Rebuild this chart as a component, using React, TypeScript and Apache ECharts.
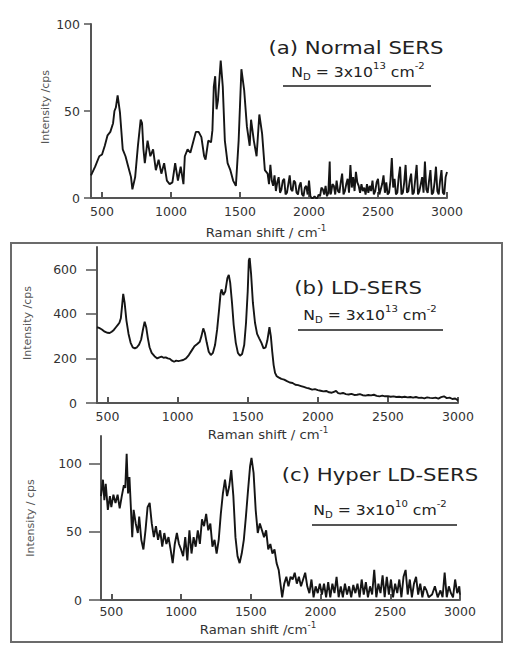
import React, { useEffect, useRef } from "react";
import * as echarts from "echarts";

const xTickValues = [500, 1000, 1500, 2000, 2500, 3000];
const yTicksA = [0, 50, 100];
const yTicksB = [0, 200, 400, 600];
const yTicksC = [0, 50, 100];

const panelTitles = ["(a) Normal SERS", "(b) LD-SERS", "(c) Hyper LD-SERS"];
const densityExponents = ["13", "13", "10"];
const xNames = ["Raman shift / cm", "Raman shift / cm", "Raman shift /cm"];
const yNames = ["Intensity /cps", "Intensity /cps", "Intensity / cps"];

const spectrumA: [number, number][] = [
  [420, 13], [450, 18], [480, 24], [500, 25], [520, 30], [540, 36], [560, 38], [580, 43], [590, 50], [600, 52],
  [613, 59], [630, 49], [650, 28], [670, 24], [690, 18], [710, 12], [720, 5], [740, 12], [760, 30], [780, 45],
  [790, 43], [800, 28], [810, 20], [830, 33], [850, 24], [870, 28], [890, 16], [910, 22], [930, 14], [950, 20],
  [970, 10], [990, 8], [1010, 9], [1030, 20], [1050, 10], [1070, 18], [1090, 8], [1100, 24], [1120, 28], [1140, 26],
  [1160, 32], [1180, 38], [1200, 38], [1220, 35], [1240, 24], [1250, 22], [1270, 33], [1290, 32], [1300, 39], [1310, 64],
  [1320, 70], [1330, 51], [1340, 56], [1360, 79], [1375, 64], [1390, 33], [1410, 20], [1430, 16], [1450, 10], [1470, 7],
  [1490, 33], [1510, 74], [1530, 62], [1550, 41], [1570, 30], [1580, 45], [1600, 33], [1620, 24], [1640, 48], [1660, 37],
  [1680, 16], [1700, 14], [1710, 8], [1720, 19], [1730, 10], [1740, 7], [1750, 13], [1760, 4], [1770, 9], [1780, 12],
  [1790, 3], [1800, 5], [1810, 10], [1820, 11], [1830, 2], [1840, 3], [1850, 8], [1860, 13], [1870, 5], [1880, 4],
  [1890, 10], [1900, 9], [1910, 3], [1920, 2], [1930, 7], [1940, 9], [1950, 2], [1960, 1], [1970, 6], [1980, 7],
  [1990, 2], [2000, 10], [2010, 1], [2020, 0], [2030, 0], [2040, 1], [2050, 0], [2060, 0], [2070, 2], [2080, 1],
  [2090, 6], [2100, 5], [2110, 2], [2120, 7], [2130, 1], [2140, 3], [2150, 21], [2155, 2], [2160, 3], [2170, 8],
  [2180, 7], [2190, 2], [2200, 10], [2210, 4], [2220, 3], [2230, 9], [2240, 14], [2250, 2], [2260, 4], [2270, 8],
  [2280, 11], [2290, 3], [2300, 19], [2310, 6], [2320, 12], [2330, 4], [2340, 15], [2350, 9], [2360, 7], [2370, 3],
  [2380, 8], [2390, 4], [2400, 6], [2410, 2], [2420, 8], [2430, 3], [2440, 7], [2450, 4], [2460, 10], [2470, 2],
  [2480, 4], [2490, 9], [2500, 11], [2510, 2], [2520, 5], [2530, 8], [2540, 13], [2550, 3], [2560, 9], [2570, 2],
  [2580, 3], [2590, 10], [2600, 23], [2610, 6], [2620, 11], [2630, 2], [2640, 3], [2650, 12], [2660, 18], [2670, 2],
  [2680, 3], [2690, 9], [2700, 19], [2710, 3], [2720, 4], [2730, 10], [2740, 14], [2750, 2], [2760, 3], [2770, 11],
  [2780, 19], [2790, 2], [2800, 4], [2810, 8], [2820, 12], [2830, 3], [2840, 21], [2850, 5], [2860, 3], [2870, 10],
  [2880, 16], [2890, 2], [2900, 3], [2910, 9], [2920, 18], [2930, 4], [2940, 2], [2950, 10], [2960, 16], [2970, 3],
  [2980, 2], [2990, 12], [3000, 15],
];

const spectrumB: [number, number][] = [
  [425, 340], [440, 337], [460, 330], [480, 320], [500, 315], [515, 314], [530, 320], [545, 328], [560, 340], [575, 352],
  [585, 360], [595, 380], [603, 430], [612, 490], [622, 450], [635, 370], [650, 310], [665, 270], [680, 250], [695, 245],
  [710, 250], [725, 262], [740, 285], [753, 330], [765, 365], [776, 340], [788, 290], [800, 250], [815, 225], [835, 210],
  [855, 200], [870, 205], [885, 208], [900, 203], [915, 205], [930, 200], [945, 198], [960, 190], [975, 185], [990, 190],
  [1005, 188], [1020, 190], [1040, 193], [1060, 200], [1080, 215], [1100, 235], [1120, 255], [1140, 265], [1158, 275],
  [1170, 300], [1183, 335], [1194, 315], [1208, 270], [1222, 230], [1237, 215], [1252, 225], [1267, 260], [1282, 330],
  [1296, 420], [1306, 490], [1313, 510], [1326, 485], [1340, 500], [1355, 560], [1365, 575], [1375, 540], [1388, 450],
  [1400, 350], [1415, 270], [1430, 225], [1445, 212], [1460, 220], [1475, 260], [1488, 360], [1500, 500], [1508, 640],
  [1514, 650], [1524, 580], [1537, 450], [1552, 360], [1567, 310], [1582, 290], [1598, 270], [1613, 245], [1628, 250],
  [1640, 280], [1655, 340], [1665, 300], [1675, 230], [1685, 170], [1695, 135], [1707, 120], [1720, 115], [1740, 108],
  [1760, 105], [1780, 98], [1800, 92], [1820, 90], [1840, 82], [1860, 80], [1880, 76], [1900, 72], [1920, 68], [1940, 65],
  [1960, 60], [1980, 62], [2000, 58], [2020, 55], [2040, 52], [2060, 54], [2080, 48], [2100, 46], [2115, 50], [2130, 54],
  [2145, 44], [2160, 42], [2180, 45], [2200, 40], [2220, 38], [2240, 41], [2260, 36], [2280, 37], [2300, 40], [2320, 35],
  [2340, 33], [2360, 36], [2380, 34], [2400, 37], [2420, 32], [2440, 30], [2460, 33], [2480, 30], [2500, 31], [2520, 28],
  [2540, 30], [2560, 27], [2580, 28], [2600, 26], [2620, 28], [2640, 25], [2660, 27], [2680, 24], [2700, 27], [2720, 23],
  [2740, 24], [2760, 21], [2780, 25], [2800, 23], [2820, 22], [2840, 24], [2860, 20], [2880, 26], [2900, 30], [2920, 22],
  [2940, 24], [2960, 18], [2980, 20], [3000, 12],
];

const spectrumC: [number, number][] = [
  [426, 76], [440, 88], [450, 73], [460, 85], [475, 66], [490, 76], [500, 68], [515, 77], [530, 71], [545, 77],
  [560, 67], [575, 76], [590, 84], [600, 82], [610, 107], [620, 78], [630, 90], [640, 68], [650, 46], [660, 66],
  [675, 56], [690, 49], [700, 61], [715, 44], [730, 37], [745, 51], [760, 68], [775, 71], [790, 56], [805, 46],
  [820, 54], [835, 44], [850, 51], [865, 39], [880, 49], [895, 41], [910, 46], [925, 37], [940, 27], [955, 41],
  [970, 49], [985, 41], [1000, 37], [1015, 32], [1030, 46], [1045, 29], [1060, 51], [1075, 34], [1090, 46], [1105, 39],
  [1120, 51], [1135, 41], [1150, 59], [1165, 54], [1180, 63], [1195, 51], [1210, 56], [1225, 39], [1240, 44], [1255, 34],
  [1270, 44], [1285, 63], [1300, 78], [1315, 88], [1330, 76], [1345, 83], [1360, 95], [1375, 76], [1390, 46], [1405, 32],
  [1420, 27], [1435, 34], [1450, 44], [1465, 61], [1480, 80], [1495, 98], [1505, 104], [1520, 93], [1535, 66], [1550, 49],
  [1565, 56], [1580, 51], [1595, 46], [1610, 51], [1625, 37], [1640, 41], [1655, 34], [1670, 37], [1685, 27], [1700, 22],
  [1715, 10], [1725, 2], [1740, 12], [1755, 17], [1770, 10], [1785, 17], [1800, 15], [1815, 20], [1830, 12], [1845, 17],
  [1860, 10], [1875, 15], [1890, 20], [1905, 10], [1920, 5], [1935, 15], [1950, 2], [1965, 10], [1980, 5], [1995, 12],
  [2010, 4], [2025, 12], [2040, 2], [2055, 13], [2070, 2], [2085, 12], [2100, 5], [2115, 17], [2130, 2], [2145, 10],
  [2160, 2], [2175, 12], [2190, 4], [2205, 10], [2220, 2], [2235, 11], [2250, 5], [2265, 12], [2280, 2], [2295, 15],
  [2310, 4], [2325, 13], [2340, 2], [2355, 10], [2370, 4], [2385, 22], [2400, 2], [2415, 12], [2430, 5], [2445, 18],
  [2460, 2], [2475, 17], [2490, 4], [2505, 15], [2520, 2], [2535, 12], [2550, 5], [2565, 15], [2580, 2], [2595, 17],
  [2610, 22], [2625, 4], [2640, 15], [2655, 2], [2670, 12], [2685, 17], [2700, 4], [2715, 12], [2730, 2], [2745, 10],
  [2760, 7], [2775, 2], [2800, 4], [2820, 10], [2840, 2], [2860, 7], [2875, 2], [2890, 20], [2905, 2], [2920, 10],
  [2935, 5], [2950, 2], [2965, 15], [2980, 5], [2995, 10], [3000, 4],
];

const FONT = "'DejaVu Sans', Arial, sans-serif";

export default function App() {
  const ref = useRef<HTMLDivElement>(null);

  useEffect(() => {
    if (!ref.current) return;
    const chart = echarts.init(ref.current, null, { renderer: "svg" });

    const grids = [
      { left: 91, top: 24, width: 356, height: 174 },
      { left: 97, top: 247, width: 361, height: 156 },
      { left: 101, top: 436, width: 359, height: 164 },
    ];
    const xMins = [420, 425, 426];
    const yMaxes = [100, 700, 120];
    const yTicks = [yTicksA, yTicksB, yTicksC];
    const yTickLen = [7, 11, 12];
    const yLabelMargin = [11, 20, 19];
    const xLabelMargin = [7, 7, 5];
    const data = [spectrumA, spectrumB, spectrumC];

    const axisColor = "#555";
    const labelColor = "#333";
    const plain = (v: number) => String(v);

    const xAxis = grids.map((_, i) => ({
      type: "value",
      gridIndex: i,
      min: xMins[i],
      max: 3000,
      axisLine: { show: true, onZero: false, lineStyle: { color: axisColor, width: 2 } },
      axisTick: { show: true, inside: true, length: 6, customValues: xTickValues, lineStyle: { color: axisColor, width: 2 } },
      axisLabel: { customValues: xTickValues, formatter: plain, color: labelColor, fontSize: 12.5, fontFamily: FONT, margin: xLabelMargin[i] },
      splitLine: { show: false },
    }));

    const yAxis = grids.map((_, i) => ({
      type: "value",
      gridIndex: i,
      min: 0,
      max: yMaxes[i],
      axisLine: { show: true, onZero: false, lineStyle: { color: axisColor, width: 2 } },
      axisTick: { show: true, length: yTickLen[i], customValues: yTicks[i], lineStyle: { color: axisColor, width: 1.5 } },
      axisLabel: { customValues: yTicks[i], formatter: plain, color: labelColor, fontSize: 12.5, fontFamily: FONT, margin: yLabelMargin[i] },
      splitLine: { show: false },
    }));

    const series = data.map((d, i) => ({
      type: "line",
      xAxisIndex: i,
      yAxisIndex: i,
      data: d,
      showSymbol: false,
      symbol: "none",
      silent: true,
      z: 1,
      lineStyle: { color: "#151515", width: 1.9 },
    }));

    const titlePos = [
      [356, 48],
      [358, 288],
      [380, 475],
    ];
    const densPos = [
      [358, 72],
      [370, 315],
      [380, 510],
    ];
    const underline = [
      [283, 431, 86],
      [298, 443, 330],
      [312, 457, 525],
    ];
    const xNamePos = [
      [266, 233],
      [268, 435],
      [258, 630],
    ];
    const yNamePos = [
      [45, 107],
      [27, 323],
      [30, 518],
    ];

    const supRich = {
      sup: { font: `9px ${FONT}`, fill: "#222", padding: [0, 0, 12, 0] },
      sub: { font: `9px ${FONT}`, fill: "#222", padding: [10, 0, 0, 0] },
    };

    const graphic: any[] = [
      {
        type: "rect",
        shape: { x: 11, y: 243, width: 491, height: 399 },
        style: { fill: "none", stroke: "#6b6b6b", lineWidth: 2 },
        silent: true,
      },
    ];

    for (let i = 0; i < 3; i++) {
      graphic.push({
        type: "text",
        x: titlePos[i][0],
        y: titlePos[i][1],
        scaleX: 1.18,
        style: {
          text: panelTitles[i],
          font: `18px ${FONT}`,
          fill: "#222",
          align: "center",
          verticalAlign: "middle",
          textAlign: "center",
          textVerticalAlign: "middle",
        },
      });
      graphic.push({
        type: "text",
        x: densPos[i][0],
        y: densPos[i][1],
        scaleX: 1.12,
        style: {
          text: `N{sub|D} = 3x10{sup|${densityExponents[i]}} cm{sup|-2}`,
          font: `14px ${FONT}`,
          fill: "#222",
          rich: supRich,
          align: "center",
          verticalAlign: "middle",
          textAlign: "center",
          textVerticalAlign: "middle",
        },
      });
      graphic.push({
        type: "line",
        shape: { x1: underline[i][0], y1: underline[i][2], x2: underline[i][1], y2: underline[i][2] },
        style: { stroke: "#555", lineWidth: 2 },
      });
      graphic.push({
        type: "text",
        x: xNamePos[i][0],
        y: xNamePos[i][1],
        scaleX: 1.1,
        style: {
          text: `${xNames[i]}{sup|-1}`,
          font: `12px ${FONT}`,
          fill: "#333",
          rich: {
            sup: { font: `8px ${FONT}`, fill: "#333", padding: [0, 0, 10, 0] },
          },
          align: "center",
          verticalAlign: "middle",
          textAlign: "center",
          textVerticalAlign: "middle",
        },
      });
      graphic.push({
        type: "text",
        x: yNamePos[i][0],
        y: yNamePos[i][1],
        rotation: Math.PI / 2,
        style: {
          text: yNames[i],
          font: `11px ${FONT}`,
          fill: "#555",
          align: "center",
          verticalAlign: "middle",
          textAlign: "center",
          textVerticalAlign: "middle",
        },
      });
    }

    chart.setOption({
      animation: false,
      backgroundColor: "#ffffff",
      grid: grids,
      xAxis,
      yAxis,
      series,
      graphic,
    });

    return () => chart.dispose();
  }, []);

  return (
    <div
      ref={ref}
      style={{ position: "absolute", left: 0, top: 0, width: 505, height: 651, background: "#fff" }}
    />
  );
}
